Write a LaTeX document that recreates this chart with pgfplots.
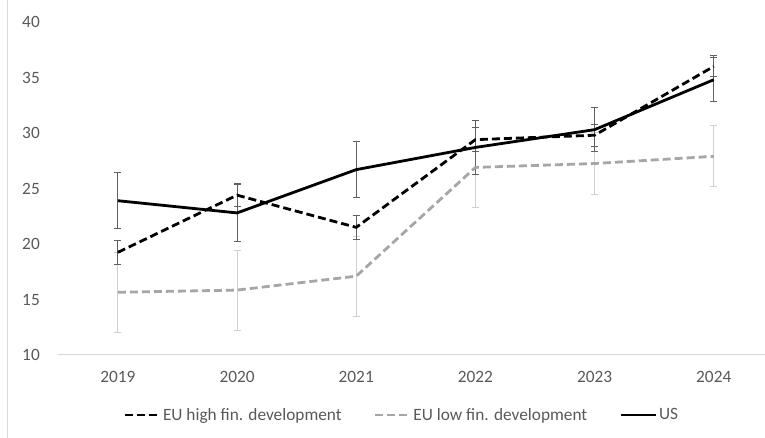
\documentclass[border=0pt]{standalone}
\usepackage{pgfplots}
\pgfplotsset{compat=1.18}
\usepackage{pgfplotstable}
\usepackage{fontspec}
\setmainfont{Carlito}

\definecolor{txt}{HTML}{595959}
\definecolor{axisgray}{HTML}{D9D9D9}
\definecolor{lowgray}{HTML}{A6A6A6}
\definecolor{errdark}{HTML}{606060}
\definecolor{errlight}{HTML}{D0D0D0}

% x = 0..5 stands for 2019..2024
\pgfplotstableread{
x  high  herr  low   lerr  us    uerr
0  19.25 1.10  15.65 3.60  23.9  2.50
1  24.40 1.05  15.85 3.60  22.8  2.55
2  21.50 1.10  17.10 3.60  26.7  2.50
3  29.40 1.10  26.90 3.60  28.7  2.45
4  29.80 1.00  27.25 2.75  30.3  2.00
5  36.00 0.95  27.90 2.75  34.8  2.00
}\data

\pgfplotsset{
  errbars/.style={forget plot, draw=none, mark=none,
    error bars/.cd, y dir=both, y explicit,
    error bar style={draw=#1, line width=1bp, solid},
    error mark options={rotate=90, mark size=3.5bp, draw=#1, line width=1bp, solid}},
}

\begin{document}
\begin{tikzpicture}
\useasboundingbox (0,0) rectangle (765bp,438bp);
\draw[axisgray, line width=1bp] (7bp,0) -- (7bp,438bp);
\begin{axis}[
  at={(58.3bp,83bp)}, anchor=south west,
  scale only axis, width=706.7bp, height=333bp,
  xmin=-0.5, xmax=5.43, ymin=10, ymax=40,
  xtick={0,...,5}, xticklabels={2019,2020,2021,2022,2023,2024},
  ytick={10,15,...,40},
  axis x line*=bottom, axis y line*=left,
  x axis line style={axisgray, line width=1bp, -},
  y axis line style={draw=none},
  major tick length=0pt,
  tick label style={font=\fontsize{17.3bp}{20bp}\selectfont, text=txt},
  xticklabel style={yshift=-13bp},
  yticklabel style={xshift=-15bp},
  /pgf/number format/assume math mode=true,
  legend columns=3,
  legend style={at={(0.0916,-0.18)}, anchor=west, draw=none, fill=none,
    inner sep=0pt, font=\fontsize{17.3bp}{20bp}\selectfont, text=txt},
  legend cell align=left,
  /tikz/every even column/.append style={column sep=30bp},
  legend image code/.code={\draw[#1] (0bp,0bp) -- (35bp,0bp);},
  clip=false,
]
% error bars first, so that the lines lie over them
\addplot[errbars=errlight] table[x=x, y=low, y error=lerr] {\data};
\addplot[errbars=errdark] table[x=x, y=high, y error=herr] {\data};
\addplot[errbars=errdark] table[x=x, y=us, y error=uerr] {\data};

\addplot[black, line width=2.8bp, dash pattern=on 8bp off 4bp, mark=none]
  table[x=x, y=high] {\data};
\addlegendentry{EU high fin. development}
\addplot[lowgray, line width=2.8bp, dash pattern=on 8bp off 4bp, mark=none]
  table[x=x, y=low] {\data};
\addlegendentry{EU low fin. development}
\addplot[black, line width=2.8bp, mark=none]
  table[x=x, y=us] {\data};
\addlegendentry{US}
\end{axis}
\end{tikzpicture}
\end{document}
